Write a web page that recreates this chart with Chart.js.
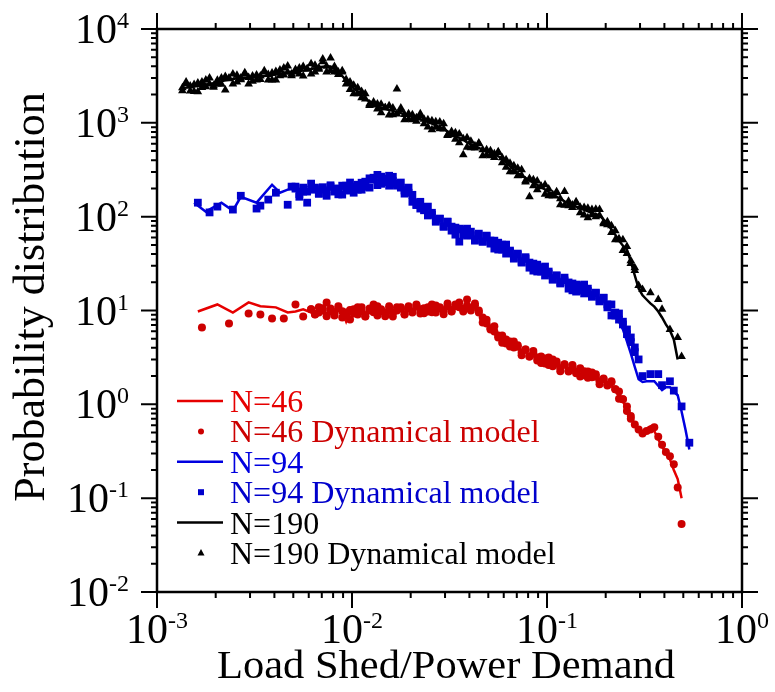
<!DOCTYPE html>
<html>
<head>
<meta charset="utf-8">
<title>Load shed probability distribution</title>
<script src="https://cdn.jsdelivr.net/npm/chart.js@4.4.1/dist/chart.umd.min.js"></script>
<style>
  html, body { margin: 0; padding: 0; background: #fff; }
  #wrap { width: 775px; height: 692px; }
</style>
</head>
<body>
<div id="wrap"><canvas id="chart" width="775" height="692"></canvas></div>
<script>
// load shed / power demand bins (shared by every series)
const loadShed = [
  1.35e-3, 1.41e-3, 1.48e-3, 1.55e-3, 1.62e-3, 1.70e-3, 1.78e-3, 1.86e-3, 1.95e-3, 2.04e-3,
  2.14e-3, 2.24e-3, 2.34e-3, 2.45e-3, 2.57e-3, 2.69e-3, 2.82e-3, 2.95e-3, 3.09e-3, 3.24e-3,
  3.39e-3, 3.55e-3, 3.72e-3, 3.89e-3, 4.07e-3, 4.27e-3, 4.47e-3, 4.68e-3, 4.90e-3, 5.13e-3,
  5.37e-3, 5.62e-3, 5.89e-3, 6.17e-3, 6.46e-3, 6.76e-3, 7.08e-3, 7.41e-3, 7.76e-3, 8.13e-3,
  8.51e-3, 8.91e-3, 9.33e-3, 9.77e-3, 0.0102, 0.0107, 0.0112, 0.0117, 0.0123, 0.0129,
  0.0135, 0.0141, 0.0148, 0.0155, 0.0162, 0.0170, 0.0178, 0.0186, 0.0195, 0.0204,
  0.0214, 0.0224, 0.0234, 0.0245, 0.0257, 0.0269, 0.0282, 0.0295, 0.0309, 0.0324,
  0.0339, 0.0355, 0.0372, 0.0389, 0.0407, 0.0427, 0.0447, 0.0468, 0.0490, 0.0513,
  0.0537, 0.0562, 0.0589, 0.0617, 0.0646, 0.0676, 0.0708, 0.0741, 0.0776, 0.0813,
  0.0851, 0.0891, 0.0933, 0.0977, 0.102, 0.107, 0.112, 0.117, 0.123, 0.129,
  0.135, 0.141, 0.148, 0.155, 0.162, 0.170, 0.178, 0.186, 0.195, 0.204,
  0.214, 0.224, 0.234, 0.245, 0.257, 0.269, 0.282, 0.295, 0.309, 0.324,
  0.339, 0.355, 0.372, 0.389, 0.407, 0.427, 0.447, 0.468, 0.490, 0.513,
  0.537
];

// N=46
const n46 = [
  null, null, null, null, 9.75, null, null, null, null, 11.6,
  null, null, null, 9.52, null, null, null, 12.2, null, null,
  11.1, null, null, null, 10.8, null, null, 9.52, null, 9.75,
  null, 10.3, null, 9.52, null, 10.0, null, 9.29, null, 10.3,
  null, 9.75, 7.64, 9.75, null, 10.0, null, 9.52, null, 10.6,
  null, 9.75, null, 10.3, null, 9.52, null, 10.3, null, 10.0,
  null, 10.6, null, 10.0, null, 10.6, null, 10.3, null, 10.8,
  null, 10.6, null, 11.6, null, 10.6, null, 8.43, null, 6.59,
  null, 5.42, null, 4.68, null, 4.25, null, 3.76, null, 3.40,
  null, 3.16, null, 2.93, null, 2.73, null, 2.54, null, 2.42,
  null, 2.24, null, 2.14, null, 1.99, null, 1.85, null, 1.67,
  null, 1.45, null, 1.08, null, 0.73, 0.60, 0.52, 0.49, 0.54,
  0.58, 0.52, 0.425, 0.35, 0.31, 0.26, 0.20, 0.16, 0.10, null,
  null
];
const n46Model = [
  null, null, null, null, null, 6.59, null, null, null, null,
  null, null, 7.28, null, null, null, null, 9.29, null, null,
  9.05, null, null, 8.2, null, null, 8.2, null, null, 11.6,
  null, 8.64, null, 10.3, 9.05, 9.52, 10.6, 12.2, 9.75, 8.85,
  10.6, 8.43, 9.52, 8.02, 10.3, 9.05, 10.8, 8.64, 10.0, 11.6,
  8.85, 10.3, 9.29, 11.1, 8.64, 10.0, 10.8, 9.05, 10.6, 9.52,
  11.3, 9.29, 10.6, 9.75, 11.6, 9.52, 10.8, 10.0, 11.9, 9.75,
  11.1, 12.2, 10.3, 13.1, 10.6, 11.3, 9.52, 8.43, 7.28, 6.45,
  5.98, 5.16, 5.42, 4.46, 4.68, 4.04, 4.25, 3.57, 3.85, 3.24,
  3.49, 2.93, 3.24, 2.73, 3.16, 2.54, 2.86, 2.42, 2.66, 2.24,
  2.54, 2.14, 2.42, 2.04, 2.24, 1.94, 2.09, 1.76, 1.85, 1.63,
  1.72, 1.45, 1.37, 1.13, 0.95, 0.75, 0.61, 0.54, 0.49, 0.52,
  0.54, 0.57, 0.45, 0.37, 0.31, 0.28, 0.23, 0.13, 0.053, null,
  null
];
const n46ModelB = [
  null, null, null, null, null, null, null, null, null, null,
  null, null, null, null, null, null, null, null, null, null,
  null, null, null, null, null, null, null, null, null, null,
  null, null, null, 10.3, 9.11, 10.8, 10.0, 8.67, 10.5, 9.33,
  11.1, 9.8, 8.88, 10.1, 9.3, 10.8, 9.8, 8.67, 10.5, 9.6,
  11.1, 9.8, 8.7, 10.3, 9.4, 10.8, 10.6, 9.12, 11.1, 9.81,
  11.6, 10.3, 9.33, 10.8, 9.58, 11.3, 10.6, 9.12, 11.1, 9.81,
  11.6, 10.8, 9.78, 11.3, 10.0, 11.9, 10.0, 7.46, 7.96, 6.27,
  6.78, 5.42, 4.53, 4.91, 4.14, 4.68, 4.10, 3.33, 3.85, 3.24,
  3.71, 3.16, 2.75, 3.08, 2.63, 3.00, 2.70, 2.25, 2.67, 2.30,
  2.63, 2.24, 1.98, 2.25, 1.92, 2.19, 1.97, 1.64, 1.89, 1.59,
  1.76, 1.45, 1.15, 1.13, 0.85, 0.70, null, null, null, null,
  null, null, null, null, null, null, null, null, null, null,
  null
];

// N=94
const n94 = [
  null, null, null, 141, null, null, 113, null, null, null,
  141, null, null, 116, null, 163, null, null, null, 141,
  null, null, null, 219, null, 180, null, 194, null, 204,
  null, 190, null, 199, null, 194, null, 199, null, 194,
  null, 199, null, 204, null, 214, null, 224, null, 242,
  null, 248, null, 242, null, 236, null, 204, null, 167,
  null, 134, null, 113, null, 97.5, null, 84.3, null, 76.4,
  null, 69.2, null, 65.9, null, 61.3, null, 58.3, null, 54.2,
  null, 49.1, null, 44.6, null, 39.4, null, 35.7, null, 31.6,
  null, 28.6, null, 26.0, null, 23.6, null, 21.4, null, 19.4,
  null, 17.6, null, 16.7, null, 15.5, null, 13.7, null, 11.3,
  null, 8.85, 7.64, 6.28, 4.7, 3.5, 2.5, 1.85, 1.73, 1.76,
  null, 1.76, null, 1.42, 1.52, 1.52, 1.37, 1.25, 0.84, 0.54,
  0.33
];
const n94Model = [
  null, null, null, null, 141, null, null, 111, null, 128,
  null, null, null, 119, null, 167, null, null, null, 122,
  131, null, 152, null, 180, null, null, 134, 209, 199,
  163, 185, 141, 194, 204, 176, 194, 167, 209, 185,
  199, 172, 214, 190, 180, 219, 194, 236, 204, 260,
  279, 224, 254, 214, 266, 224, 204, 176, 180, 144,
  134, 122, 125, 103, 110, 90.7, 95.0, 78.3, 88.5, 71.0,
  76.4, 54.2, 72.8, 62.8, 69.2, 56.9, 65.9, 54.2, 62.8, 51.6,
  55.5, 44.6, 50.3, 40.4, 43.5, 36.6, 40.4, 32.4, 35.7, 28.6,
  31.6, 26.0, 28.6, 23.6, 26.0, 21.4, 23.6, 19.4, 20.9, 17.1,
  19.4, 15.9, 18.5, 15.2, 17.1, 14.5, 15.5, 12.5, 13.7, 10.8,
  11.6, 8.85, 9.29, 7.10, 6.28, 5.16, 4.04, 3.01, 2.00, null,
  2.10, null, 2.10, 1.60, null, 1.76, 1.40, null, 0.95, null,
  0.39
];
const n94ModelB = [
  null, null, null, null, null, null, null, null, null, null,
  null, null, null, null, null, null, null, null, null, null,
  null, null, null, null, null, null, null, null, null, 209,
  174, 204, 185, 225, 196, 176, 206, 185, 216, 199,
  173, 214, 191, 231, 209, 194, 230, 208, 256, 248,
  217, 267, 233, 273, 239, 214, 231, 190, 204, 171,
  133, 144, 117, 128, 105, 88.3, 95.2, 78.4, 88.2, 78.3,
  64.3, 74.5, 64.3, 74.5, 63.5, 55.5, 62.8, 54.2, 61.8, 55.6,
  45.7, 52.8, 44.6, 50.4, 41.9, 35.7, 39.4, 33.2, 37.0, 32.4,
  26.6, 30.8, 26.0, 29.4, 24.8, 21.4, 23.6, 19.9, 22.4, 19.9,
  16.4, 18.9, 16.3, 18.9, 16.1, 14.0, 15.3, 12.7, 13.6, 11.6,
  8.85, 9.50, 8.00, 7.60, 5.60, 4.60, 3.60, null, null, null,
  null, null, null, null, null, null, null, null, null, null,
  null
];

// N=190
const n190 = [
  2360, 2380, 2410, 2440, 2470, 2500, 2530, 2580, 2640, 2700,
  2770, 2840, 2880, 2930, 2980, 3020, 3030, 3040, 3060, 3090,
  3120, 3160, 3190, 3230, 3280, 3330, 3390, 3450, 3500, 3530,
  3570, 3620, 3660, 3750, 3820, 3910, 3960, 4000, 3990, 3800,
  3530, 3160, 2830, 2570, 2330, 2140, 1910, 1790, 1690, 1590,
  1500, 1440, 1410, 1370, 1340, 1300, 1270, 1230, 1200, 1160,
  1120, 1090, 1060, 1020, 980, 940, 900, 860, 810, 770,
  720, 690, 660, 620, 590, 565, 540, 516, 500, 480,
  460, 440, 415, 380, 345, 316, 290, 274, 258, 243,
  230, 218, 206, 195, 183, 174, 163, 155, 146, 139,
  134, 128, 123, 118, 114, 110, 106, 103, 92.9, 84.3,
  72.8, 64.3, 55.5, 49.1, 44.6, 33.2, 23.6, 17.2, 14.5, 13.1,
  11.9, 11.0, 9.75, 8.43, 7.10, 6.13, 4.91, 3.01, null, null,
  null
];
const n190Model = [
  2360, 2730, 2190, 2560, 2140, 2730, 2420, 3010, 2480, 2600,
  3010, 2240, 3010, 3320, 2730, 3010, 3320, 2600, 3160, 2860,
  3160, 3580, 2860, 3400, 2860, 3660, 3240, 4040, 3320, 3490,
  3850, 3160, 3750, 4250, 3490, 3850, 4800, 3490, 4900, 3490,
  3490, 3580, 2600, 2730, 2040, 2360, 1850, 2040, 1590, 1550,
  1590, 1280, 1450, 1520, 1220, 2300, 1370, 1080, 1250, 1080,
  1130, 1250, 975, 1080, 843, 1030, 864, 975, 745, 745,
  783, 613, 457, 692, 542, 569, 598, 446, 516, 446,
  468, 491, 375, 404, 301, 349, 273, 316, 242, 163,
  248, 194, 209, 219, 167, 172, 180, 134, 185, 131,
  133, 144, 110, 125, 97.5, 119, 100, 119, 86.4, 82.2,
  80.2, 56.9, 58.3, 56.9, 40.4, 34.0, 28.6, 18.5, 16.7, null,
  15.5, null, 13.1, 10.3, null, 6.28, null, 5.16, 3.24, null,
  null
];
const n190ModelB = [
  2200, 2620, 2470, 2160, 2660, 2380, 2860, 2600, 2390, 2840,
  2580, 3120, 2950, 2590, 3210, 2880, 3420, 3040, 2770, 3240,
  2900, 3480, 3270, 2860, 3530, 3170, 3830, 3450, 3170, 3710,
  3320, 3980, 3750, 3320, 4110, 3720, 4470, 4000, 3610, 3990,
  3280, 3480, 2900, 2270, 2510, 2040, 2160, 1790, 1530, 1670,
  1400, 1580, 1450, 1210, 1440, 1240, 1440, 1230, 1090, 1220,
  1040, 1200, 1090, 903, 1050, 895, 1020, 860, 734, 809,
  670, 759, 677, 549, 635, 538, 610, 516, 453, 504,
  428, 484, 425, 336, 371, 301, 328, 274, 234, 255,
  214, 240, 211, 173, 197, 166, 184, 155, 132, 146,
  125, 141, 126, 104, 123, 105, 120, 103, 84.2, 88.5,
  67.7, 70.7, 56.9, 43.5, 48.0, 31.6, 26.7, null, null, null,
  null, null, null, null, null, null, null, null, null, null,
  null
];

const seriesLabels = ["N=46", "N=46 Dynamical model", "N=94", "N=94 Dynamical model", "N=190", "N=190 Dynamical model"];
const xTickExponents = ["-3", "-2", "-1", "0"];
const yTickExponents = ["-2", "-1", "0", "1", "2", "3", "4"];

const SERIF = '"Liberation Serif", "Times New Roman", serif';

function toPoints(values) {
  return loadShed.map((x, i) => ({ x: x, y: values[i] })).filter(p => p.y != null);
}

function lineSet(label, values, color) {
  return {
    label: label, data: toPoints(values), showLine: true,
    borderColor: color, backgroundColor: color, borderWidth: 2.5,
    pointRadius: 0, tension: 0, order: 1, kind: "line",
  };
}

function markerSet(label, values, extra, color, style, radius) {
  return {
    label: label, data: toPoints(values).concat(toPoints(extra)), showLine: false,
    backgroundColor: color, borderColor: color, pointBorderWidth: 0,
    pointStyle: style, pointRadius: radius, order: 0, kind: style,
  };
}

// frame, log ticks, superscript labels, titles and in-plot legend
const framePlugin = {
  id: "frame",
  afterDraw(chart) {
    const ctx = chart.ctx;
    const xs = chart.scales.x, ys = chart.scales.y;
    const a = chart.chartArea;
    ctx.save();
    ctx.strokeStyle = "#000";
    ctx.fillStyle = "#000";

    ctx.lineWidth = 2.5;
    ctx.strokeRect(a.left, a.top, a.right - a.left, a.bottom - a.top);

    ctx.lineWidth = 2;
    ctx.beginPath();
    xTickExponents.forEach((e, i) => {
      const dec = Math.pow(10, Number(e));
      const px = xs.getPixelForValue(dec);
      ctx.moveTo(px, a.bottom); ctx.lineTo(px, a.bottom + 16);
      ctx.moveTo(px, a.top); ctx.lineTo(px, a.top - 16);
      if (i < xTickExponents.length - 1) {
        for (let m = 2; m <= 9; m++) {
          const mx = xs.getPixelForValue(dec * m);
          ctx.moveTo(mx, a.bottom); ctx.lineTo(mx, a.bottom + 6);
          ctx.moveTo(mx, a.top); ctx.lineTo(mx, a.top - 6);
        }
      }
    });
    yTickExponents.forEach((e, i) => {
      const dec = Math.pow(10, Number(e));
      const py = ys.getPixelForValue(dec);
      ctx.moveTo(a.left, py); ctx.lineTo(a.left - 16, py);
      ctx.moveTo(a.right, py); ctx.lineTo(a.right + 16, py);
      if (i < yTickExponents.length - 1) {
        for (let m = 2; m <= 9; m++) {
          const my = ys.getPixelForValue(dec * m);
          ctx.moveTo(a.left, my); ctx.lineTo(a.left - 6, my);
          ctx.moveTo(a.right, my); ctx.lineTo(a.right + 6, my);
        }
      }
    });
    ctx.stroke();

    const powLabel = (exp, x, y, align) => {
      ctx.font = "42px " + SERIF;
      const wBase = ctx.measureText("10").width;
      ctx.font = "24px " + SERIF;
      const wExp = ctx.measureText(exp).width;
      const left = align === "center" ? x - (wBase + wExp) / 2 : x - wBase - wExp;
      ctx.textAlign = "left";
      ctx.textBaseline = "alphabetic";
      ctx.font = "42px " + SERIF;
      ctx.fillText("10", left, y);
      ctx.font = "24px " + SERIF;
      ctx.fillText(exp, left + wBase, y - 15);
    };
    xTickExponents.forEach(e => {
      powLabel(e, xs.getPixelForValue(Math.pow(10, Number(e))), a.bottom + 51, "center");
    });
    yTickExponents.forEach(e => {
      powLabel(e, 129, ys.getPixelForValue(Math.pow(10, Number(e))) + 14, "right");
    });

    // axis titles
    ctx.textAlign = "center";
    ctx.textBaseline = "alphabetic";
    ctx.font = "39px " + SERIF;
    const xt = "Load Shed/Power Demand";
    const sx = 458 / ctx.measureText(xt).width;
    ctx.save();
    ctx.translate(446, 678);
    ctx.scale(sx, 1);
    ctx.fillText(xt, 0, 0);
    ctx.restore();

    ctx.save();
    ctx.font = "44px " + SERIF;
    ctx.translate(44, 297);
    ctx.rotate(-Math.PI / 2);
    ctx.fillText("Probability distribution", 0, 0);
    ctx.restore();

    // legend inside the plot, in the original order
    seriesLabels.forEach((name, row) => {
      const ds = chart.data.datasets.find(d => d.label === name);
      const base = 412 + row * 30.4;
      const cy = base - 11;
      const col = ds.borderColor;
      ctx.fillStyle = col;
      ctx.strokeStyle = col;
      if (ds.kind === "line") {
        ctx.lineWidth = 2.5;
        ctx.beginPath();
        ctx.moveTo(177, cy); ctx.lineTo(223, cy);
        ctx.stroke();
      } else if (ds.kind === "circle") {
        ctx.beginPath();
        ctx.arc(201, cy, 3, 0, Math.PI * 2);
        ctx.fill();
      } else if (ds.kind === "rect") {
        ctx.fillRect(198, cy - 3, 6, 6);
      } else {
        ctx.beginPath();
        ctx.moveTo(201, cy - 4); ctx.lineTo(204.5, cy + 2.5); ctx.lineTo(197.5, cy + 2.5);
        ctx.closePath();
        ctx.fill();
      }
      ctx.font = "32px " + SERIF;
      ctx.textAlign = "left";
      ctx.fillText(ds.label, 230, base);
    });
    ctx.restore();
  }
};

new Chart(document.getElementById("chart"), {
  type: "scatter",
  data: {
    datasets: [
      lineSet(seriesLabels[0], n46, "#e60000"),
      markerSet(seriesLabels[1], n46Model, n46ModelB, "#cc0000", "circle", 4),
      lineSet(seriesLabels[2], n94, "#0000e0"),
      markerSet(seriesLabels[3], n94Model, n94ModelB, "#0000cc", "rect", 5.5),
      lineSet(seriesLabels[4], n190, "#000000"),
      markerSet(seriesLabels[5], n190Model, n190ModelB, "#000000", "triangle", 5),
    ],
  },
  options: {
    responsive: false,
    animation: false,
    events: [],
    layout: { padding: { left: 157, top: 29, right: 33, bottom: 100 } },
    plugins: { legend: { display: false }, tooltip: { enabled: false } },
    scales: {
      x: { type: "logarithmic", min: 1e-3, max: 1, display: false },
      y: { type: "logarithmic", min: 1e-2, max: 1e4, display: false },
    },
  },
  plugins: [framePlugin],
});
</script>
</body>
</html>
